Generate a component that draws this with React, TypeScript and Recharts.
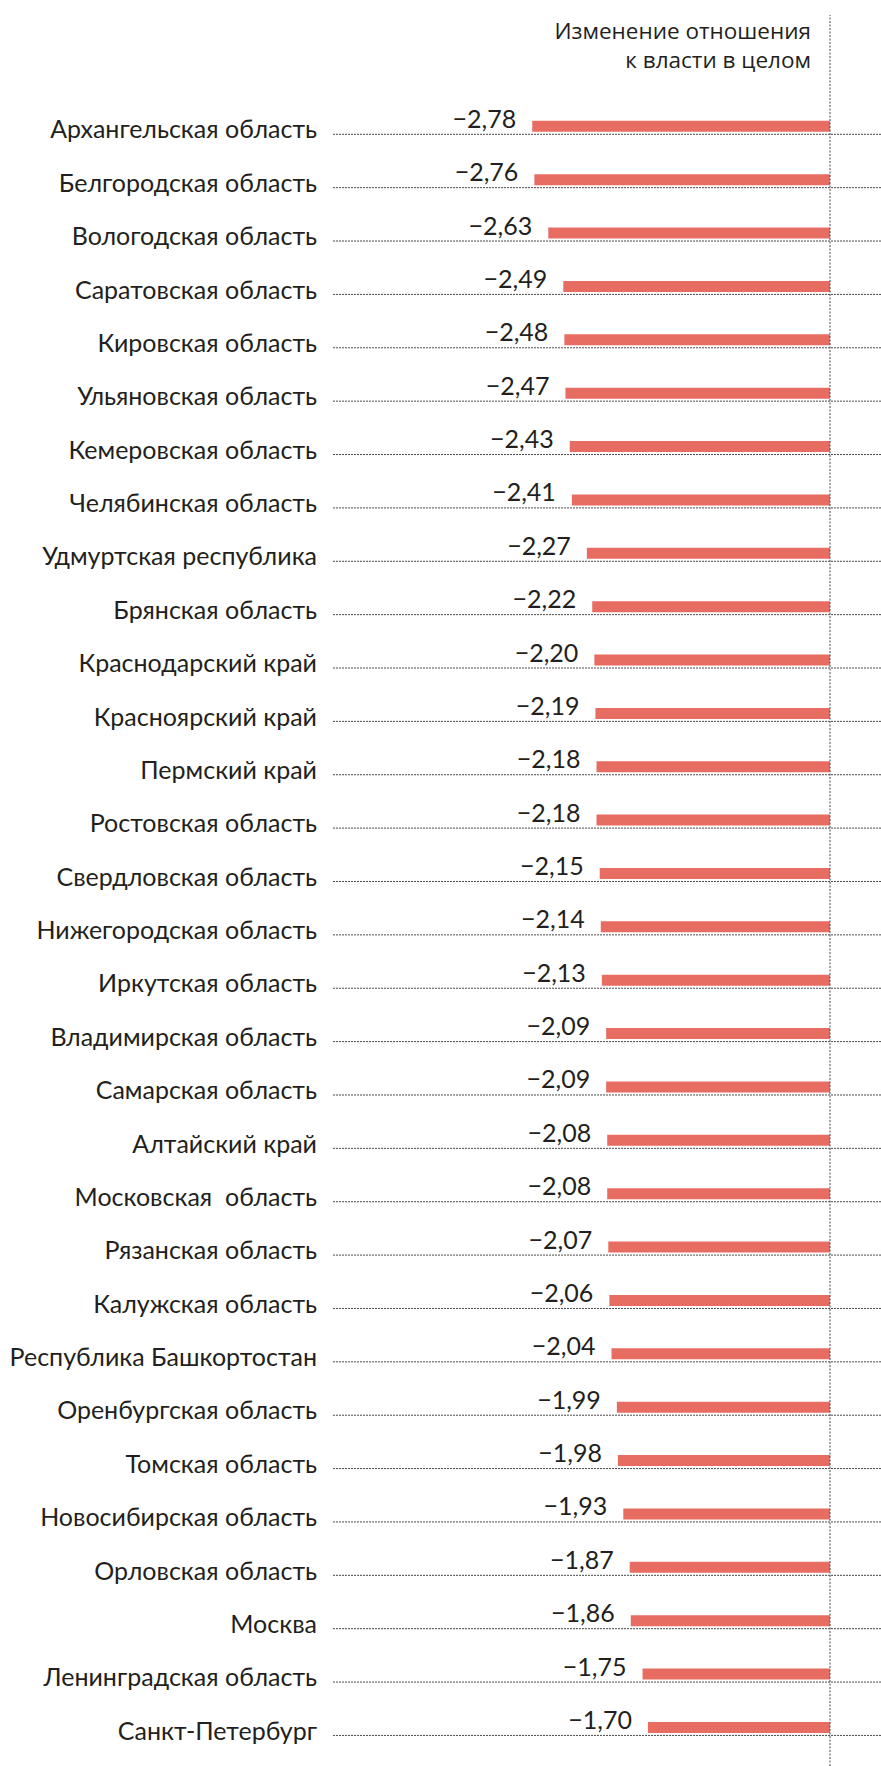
import React from 'react';
import { BarChart, Bar, XAxis, YAxis, ReferenceLine, LabelList } from 'recharts';

const regions: string[] = [
  'Архангельская область',
  'Белгородская область',
  'Вологодская область',
  'Саратовская область',
  'Кировская область',
  'Ульяновская область',
  'Кемеровская область',
  'Челябинская область',
  'Удмуртская республика',
  'Брянская область',
  'Краснодарский край',
  'Красноярский край',
  'Пермский край',
  'Ростовская область',
  'Свердловская область',
  'Нижегородская область',
  'Иркутская область',
  'Владимирская область',
  'Самарская область',
  'Алтайский край',
  'Московская  область',
  'Рязанская область',
  'Калужская область',
  'Республика Башкортостан',
  'Оренбургская область',
  'Томская область',
  'Новосибирская область',
  'Орловская область',
  'Москва',
  'Ленинградская область',
  'Санкт-Петербург',
];

const changeValues: number[] = [
  -2.78, -2.76, -2.63, -2.49, -2.48, -2.47, -2.43, -2.41, -2.27, -2.22,
  -2.2, -2.19, -2.18, -2.18, -2.15, -2.14, -2.13, -2.09, -2.09, -2.08,
  -2.08, -2.07, -2.06, -2.04, -1.99, -1.98, -1.93, -1.87, -1.86, -1.75,
  -1.7,
];

const titleLines: string[] = ['Изменение отношения', 'к власти в целом'];

const data = regions.map((name, i) => ({ name, value: changeValues[i] }));

const FONT = 'Lato, "Noto Sans", sans-serif';
const TITLE_FONT = '"Open Sans", "Noto Sans", sans-serif';
const TEXT = '#231f20';
const BAR = '#e76c61';
const DOT = '#4a4a4a';

const fmt = (v: number) =>
  (v < 0 ? '\u2212' : '') + Math.abs(v).toFixed(2).replace('.', ',');

const CategoryTick = (props: any) => {
  const { x, y, payload } = props;
  return (
    <text
      x={x}
      y={y}
      dy={12}
      textAnchor="end"
      fontFamily={FONT}
      fontSize={25}
      fill={TEXT}
      style={{ whiteSpace: 'pre' }}
      xmlSpace="preserve"
    >
      {payload.value}
    </text>
  );
};

const RowLine = (props: any) => {
  const { x, y, width, height } = props;
  const ly = y + height + 2.5;
  return (
    <line
      x1={x}
      x2={x + width}
      y1={ly}
      y2={ly}
      stroke={DOT}
      strokeWidth={1}
      strokeDasharray="2 1"
    />
  );
};

const ValueLabel = (props: any) => {
  const { x, y, width, height, value } = props;
  const left = Math.min(x, x + width);
  return (
    <text
      x={left - 16}
      y={y + height / 2 + 1.5}
      textAnchor="end"
      fontFamily={FONT}
      fontSize={25}
      fill={TEXT}
    >
      {fmt(value)}
    </text>
  );
};

export default function App() {
  return (
    <div style={{ position: 'absolute', left: 0, top: 0, width: 881, height: 1766, background: '#fff' }}>
      <div
        style={{
          position: 'absolute',
          left: 0,
          top: 16,
          width: 811,
          textAlign: 'right',
          fontFamily: TITLE_FONT,
          fontSize: 22.5,
          lineHeight: '29px',
          color: TEXT,
          zIndex: 2,
        }}
      >
        {titleLines.map((t) => (
          <div key={t}>{t}</div>
        ))}
      </div>
      <BarChart
        width={881}
        height={1766}
        data={data}
        layout="vertical"
        margin={{ top: 15, right: 0, bottom: 0, left: 0 }}
        barSize={11}
      >
        <XAxis type="number" domain={[-4.64, 0.476]} hide />
        <YAxis
          type="category"
          dataKey="name"
          width={333}
          axisLine={false}
          tickLine={false}
          tickSize={16}
          tickMargin={0}
          interval={0}
          padding={{ top: 84.8, bottom: 11.7 }}
          tick={<CategoryTick />}
        />
        <Bar
          dataKey="value"
          fill={BAR}
          isAnimationActive={false}
          background={<RowLine />}
        >
          <LabelList dataKey="value" content={<ValueLabel />} />
        </Bar>
        <ReferenceLine x={0} stroke={DOT} strokeWidth={1} strokeDasharray="2 1.5" />
      </BarChart>
    </div>
  );
}
